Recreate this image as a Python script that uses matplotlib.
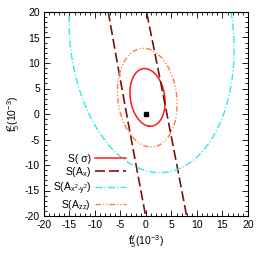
import numpy as np
import matplotlib
matplotlib.use("Agg")
import matplotlib.pyplot as plt

plt.rcParams['font.family'] = ['Liberation Sans', 'DejaVu Sans']
plt.rcParams['mathtext.fontset'] = 'custom'
plt.rcParams['mathtext.rm'] = 'Liberation Sans'
plt.rcParams['mathtext.it'] = 'Liberation Sans'
plt.rcParams['mathtext.default'] = 'regular'
plt.rcParams['axes.unicode_minus'] = False

# -----------------------------
# sensitivity contours (sheared ellipses), units of 1e-3
# ((x - cx - s*(y-cy))/W)^2 + ((y-cy)/H)^2 = 1
# -----------------------------
labels = ["S( \u03c3)", "S(A$_x$)", "S(A$_{x^2\u2010y^2}$)", "S(A$_{zz}$)"]
center_x = [0.3, 3.95, 1.1, 0.25]
center_y = [3.25, -20.0, 15.4, 3.2]
half_width = [3.4, 4.02, 16.1, 5.8]
half_height = [5.65, 113.0, 26.9, 9.68]
shear = [-0.10, -0.19, -0.06, -0.078]

# best-fit point
best_x = [0.0]
best_y = [0.0]

colors = ['#ff1a1a', '#7a1010', '#33e8f0', '#ff7a3a']
dashes = [(None, None), (6, 2.4), (5, 1.6, 0.8, 1.6), (4, 1.5, 0.8, 1.5, 0.8, 1.5)]
widths = [1.1, 1.2, 1.0, 1.0]

fig = plt.figure(figsize=(2.67, 2.60), dpi=100)
ax = fig.add_axes([44/267, 1-216/260, 204/267, 204/260])

g = np.linspace(-25, 25, 801)
X, Y = np.meshgrid(g, g)

handles = []
for i in range(len(labels)):
    Z = ((X - center_x[i] - shear[i]*(Y - center_y[i]))/half_width[i])**2 \
        + ((Y - center_y[i])/half_height[i])**2
    cs = ax.contour(X, Y, Z, levels=[1.0])
    segs = cs.allsegs[0]
    cs.remove()
    for seg in segs:
        ln, = ax.plot(seg[:, 0], seg[:, 1], color=colors[i], lw=widths[i])
        if dashes[i][0] is not None:
            ln.set_dashes(dashes[i])
    h, = ax.plot([], [], color=colors[i], lw=widths[i], label=labels[i])
    if dashes[i][0] is not None:
        h.set_dashes(dashes[i])
    handles.append(h)

ax.plot(best_x, best_y, 's', color='black', ms=3.5)

ax.set_xlim(-20, 20)
ax.set_ylim(-20, 20)
ax.set_xticks(np.arange(-20, 21, 5))
ax.set_yticks(np.arange(-20, 21, 5))
ax.set_xticks(np.arange(-20, 21, 1), minor=True)
ax.set_yticks(np.arange(-20, 21, 1), minor=True)
ax.tick_params(which='both', direction='in', top=True, right=True, labelsize=7.5, pad=3)
ax.tick_params(which='major', length=4, width=0.6)
ax.tick_params(which='minor', length=2, width=0.6)
for s in ax.spines.values():
    s.set_linewidth(0.8)

ax.set_xlabel("f$_5^\u03b3$(10$^{-3}$)", fontsize=7.5, labelpad=2)
ax.set_ylabel("f$_5^Z$(10$^{-3}$)", fontsize=7.5, labelpad=2)

ax.legend(handles=handles, loc='lower right', bbox_to_anchor=(0.40, 0.02),
          frameon=False, markerfirst=False, fontsize=7.5, handlelength=2.9,
          handletextpad=0.4, labelspacing=0.12, borderpad=0, borderaxespad=0)

plt.savefig("out.png", dpi=100)
